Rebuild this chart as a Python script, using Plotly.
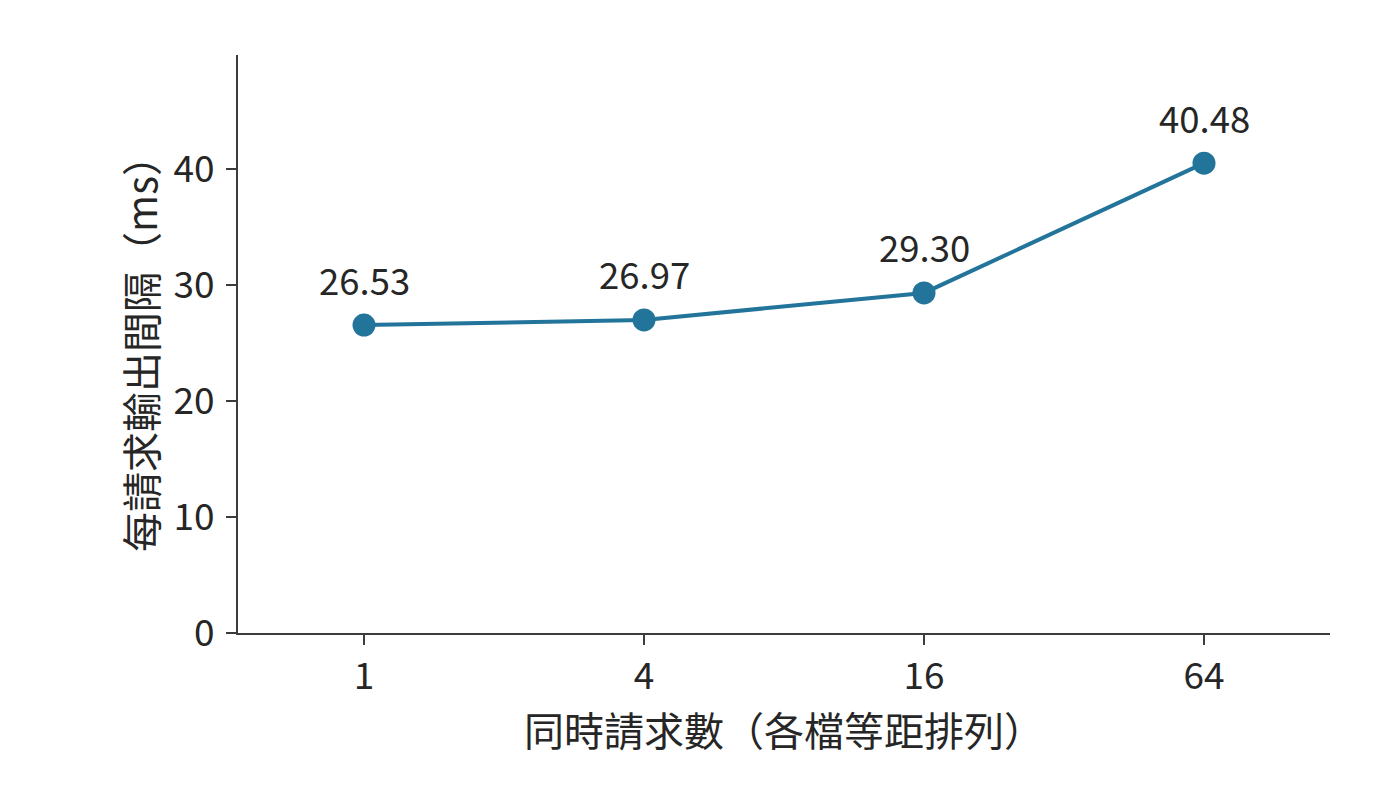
import plotly.graph_objects as go

concurrency = ["1", "4", "16", "64"]
itl_ms = [26.53, 26.97, 29.30, 40.48]
y_ticks = [0, 10, 20, 30, 40]

color = "#23749a"
font_family = "Noto Sans CJK TC, Noto Sans CJK SC, sans-serif"
text_color = "#262626"
axis_color = "#3c3c3c"

fig = go.Figure()
fig.add_trace(go.Scatter(
    x=concurrency, y=itl_ms, mode="lines+markers",
    line=dict(color=color, width=4),
    marker=dict(color=color, size=23),
    hoverinfo="x+y", showlegend=False,
))

for i, yv in enumerate(itl_ms):
    fig.add_annotation(x=i, y=yv, text=f"{yv:.2f}", showarrow=False,
                       yshift=46, font=dict(size=36.5, color=text_color, family=font_family))

fig.update_layout(
    width=1400, height=792,
    margin=dict(l=230, r=78, t=47, b=167),
    paper_bgcolor="white", plot_bgcolor="white",
    font=dict(family=font_family, color=text_color, size=37),
    xaxis=dict(
        type="category", range=[-0.45, 3.45],
        showline=True, linecolor=axis_color, linewidth=2,
        ticks="outside", ticklen=10, tickwidth=2, tickcolor=axis_color,
        showgrid=False, zeroline=False,
        tickfont=dict(size=37, color=text_color),
        title=dict(text="同時請求數（各檔等距排列）", font=dict(size=40, color=text_color), standoff=0),
    ),
    yaxis=dict(
        range=[0, 49.8],
        tickvals=y_ticks, ticktext=[str(v) for v in y_ticks],
        showline=True, linecolor=axis_color, linewidth=2,
        ticks="outside", ticklen=10, tickwidth=2, tickcolor=axis_color,
        ticklabelstandoff=4,
        showgrid=False, zeroline=False,
        tickfont=dict(size=37, color=text_color),
        title=dict(text="每請求輸出間隔（ms）", font=dict(size=40, color=text_color), standoff=4),
    ),
)

fig.write_html("out.html")
